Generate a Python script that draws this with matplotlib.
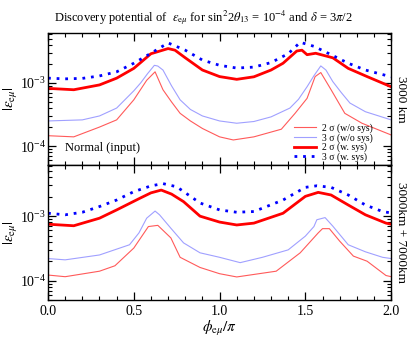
import matplotlib
matplotlib.use("Agg")
from matplotlib import pyplot as plt
from matplotlib.ticker import LogLocator, MultipleLocator, NullFormatter
import numpy as np

plt.rcParams['font.family'] = ['Liberation Serif', 'DejaVu Serif']
plt.rcParams['mathtext.fontset'] = 'stix'

##-----------------------------------------------------------------------------
## top panel: 3000 km

top_x_3w = [0.0, 0.1, 0.2, 0.3, 0.4, 0.5, 0.6, 0.7, 0.8, 0.9, 1.0, 1.1, 1.2, 1.3, 1.4, 1.47, 1.55, 1.65, 1.75, 1.85, 2.0]
top_y_3w = [1.19e-3, 1.16e-3, 1.18e-3, 1.29e-3, 1.5e-3, 2.05e-3, 2.95e-3, 4.3e-3, 3.3e-3, 2.3e-3, 1.9e-3,
            1.72e-3, 1.78e-3, 2.1e-3, 2.9e-3, 4.4e-3, 3.8e-3, 2.8e-3, 2.05e-3, 1.6e-3, 1.25e-3]

top_x_2w = [0.0, 0.15, 0.3, 0.4, 0.5, 0.6, 0.7, 0.74, 0.8, 0.9, 1.0, 1.1, 1.2, 1.3, 1.37, 1.45, 1.48, 1.51,
            1.56, 1.66, 1.75, 1.86, 2.0]
top_y_2w = [8.2e-4, 7.8e-4, 9.3e-4, 1.19e-3, 1.7e-3, 2.9e-3, 3.5e-3, 3.3e-3, 2.5e-3, 1.6e-3, 1.26e-3,
            1.14e-3, 1.25e-3, 1.6e-3, 2.05e-3, 3.2e-3, 3.3e-3, 2.8e-3, 2.95e-3, 2.5e-3, 1.7e-3, 1.26e-3, 8.7e-4]

top_x_3n = [0.0, 0.2, 0.3, 0.4, 0.5, 0.54, 0.58, 0.62, 0.64, 0.67, 0.72, 0.77, 0.83, 0.9, 1.0, 1.1, 1.2,
            1.3, 1.41, 1.46, 1.51, 1.55, 1.59, 1.62, 1.66, 1.71, 1.76, 1.85, 2.0]
top_y_3n = [2.5e-4, 2.6e-4, 3.0e-4, 4.0e-4, 7.5e-4, 1.0e-3, 1.4e-3, 1.9e-3, 1.85e-3, 1.6e-3, 9e-4, 5.4e-4,
            3.8e-4, 3.0e-4, 2.5e-4, 2.3e-4, 2.45e-4, 2.9e-4, 4.0e-4, 5.5e-4, 8.7e-4, 1.3e-3, 1.86e-3,
            1.6e-3, 1.05e-3, 7e-4, 4.8e-4, 3.5e-4, 2.6e-4]

top_x_2n = [0.0, 0.15, 0.3, 0.4, 0.5, 0.575, 0.624, 0.67, 0.72, 0.77, 0.83, 0.9, 1.0, 1.08, 1.2, 1.36,
            1.44, 1.51, 1.557, 1.59, 1.65, 1.73, 1.83, 2.0]
top_y_2n = [1.46e-4, 1.4e-4, 2.0e-4, 2.6e-4, 5.4e-4, 1.1e-3, 1.5e-3, 7.8e-4, 5e-4, 3.3e-4, 2.5e-4, 1.9e-4,
            1.4e-4, 1.25e-4, 1.4e-4, 1.85e-4, 3.3e-4, 5.7e-4, 1.26e-3, 1.46e-3, 7.8e-4, 3.3e-4, 2.3e-4, 1.5e-4]

##-----------------------------------------------------------------------------
## bottom panel: 3000km + 7000km

bot_x_3w = [0.0, 0.1, 0.2, 0.3, 0.4, 0.5, 0.6, 0.67, 0.75, 0.886, 1.0, 1.1, 1.2, 1.37, 1.5, 1.567, 1.65,
            1.75, 1.85, 1.95, 2.0]
bot_y_3w = [1.11e-3, 1.05e-3, 1.15e-3, 1.41e-3, 1.78e-3, 2.4e-3, 2.95e-3, 3.2e-3, 2.86e-3, 1.6e-3, 1.25e-3,
            1.15e-3, 1.18e-3, 1.78e-3, 2.8e-3, 2.96e-3, 2.8e-3, 2.13e-3, 1.49e-3, 1.18e-3, 1.12e-3]

bot_x_2w = [0.0, 0.15, 0.3, 0.4, 0.536, 0.6, 0.66, 0.72, 0.79, 0.886, 1.0, 1.1, 1.2, 1.37, 1.5, 1.575,
            1.65, 1.75, 1.85, 1.97, 2.0]
bot_y_2w = [7.5e-4, 7.1e-4, 9.3e-4, 1.25e-3, 1.9e-3, 2.3e-3, 2.54e-3, 2.2e-3, 1.68e-3, 1.0e-3, 8.1e-4,
            7.3e-4, 7.8e-4, 1.11e-3, 2.03e-3, 2.34e-3, 2.13e-3, 1.49e-3, 1.05e-3, 7.8e-4, 7.5e-4]

bot_x_3n = [0.0, 0.1, 0.3, 0.475, 0.53, 0.575, 0.624, 0.65, 0.716, 0.79, 0.886, 1.0, 1.12, 1.25, 1.4,
            1.5, 1.55, 1.567, 1.615, 1.66, 1.75, 1.85, 1.95, 2.0]
bot_y_3n = [2.2e-4, 2.1e-4, 2.5e-4, 3.6e-4, 5.5e-4, 9.3e-4, 1.2e-3, 1.05e-3, 6.5e-4, 3.85e-4, 2.7e-4,
            2.3e-4, 1.9e-4, 2.3e-4, 3.0e-4, 4.9e-4, 6.9e-4, 8.8e-4, 9.5e-4, 7e-4, 3.6e-4, 2.8e-4, 2.3e-4, 2.2e-4]

bot_x_2n = [0.0, 0.1, 0.3, 0.39, 0.5, 0.585, 0.64, 0.716, 0.77, 0.886, 1.0, 1.1, 1.33, 1.47, 1.575, 1.6,
            1.64, 1.7, 1.78, 1.86, 1.97, 2.0]
bot_y_2n = [1.22e-4, 1.15e-4, 1.4e-4, 1.7e-4, 3.2e-4, 6.9e-4, 7.2e-4, 4.6e-4, 2.3e-4, 1.6e-4, 1.28e-4,
            1.14e-4, 1.4e-4, 2.7e-4, 5.5e-4, 6.4e-4, 6.4e-4, 4.1e-4, 2.4e-4, 2.0e-4, 1.2e-4, 1.15e-4]

labels = ['2 σ (w/o sys)', '3 σ (w/o sys)', '2 σ (w. sys)', '3 σ (w. sys)']
side_text = ['3000 km', '3000km + 7000km']

##-----------------------------------------------------------------------------

fig = plt.figure(figsize=(4.07, 3.39), dpi=100)
ax1 = fig.add_axes([0.118, 0.513, 0.843, 0.390])
ax2 = fig.add_axes([0.118, 0.115, 0.843, 0.398])

panels = [
    (ax1, (top_x_2n, top_y_2n), (top_x_3n, top_y_3n), (top_x_2w, top_y_2w), (top_x_3w, top_y_3w)),
    (ax2, (bot_x_2n, bot_y_2n), (bot_x_3n, bot_y_3n), (bot_x_2w, bot_y_2w), (bot_x_3w, bot_y_3w)),
]

for i, (ax, c2n, c3n, c2w, c3w) in enumerate(panels):
    ax.plot(*c2n, color='#ff5a5a', lw=0.8, label=labels[0])
    ax.plot(*c3n, color='#a0a0ff', lw=0.8, label=labels[1])
    ax.plot(*c2w, color='#ff0000', lw=2.0, label=labels[2])
    ax.plot(*c3w, color='#0000ff', lw=2.0, ls=(0, (1, 2.1)), label=labels[3])

    ax.set_yscale('log')
    ax.set_ylim(5e-5, 6.2e-3)
    ax.set_xlim(0, 2.0)
    ax.xaxis.set_major_locator(MultipleLocator(0.5))
    ax.xaxis.set_minor_locator(MultipleLocator(0.1))
    ax.yaxis.set_major_locator(LogLocator(base=10, numticks=10))
    ax.yaxis.set_minor_locator(LogLocator(base=10, subs=np.arange(2, 10), numticks=10))
    ax.yaxis.set_minor_formatter(NullFormatter())
    ax.tick_params(which='both', direction='in', top=True, right=True, labelsize=10)
    ax.tick_params(which='major', length=6, width=0.9)
    ax.tick_params(which='minor', length=3, width=0.8)
    ax.tick_params(axis='y', which='major', pad=1.5)
    for s in ax.spines.values():
        s.set_linewidth(1.0)

    ax.set_ylabel(r'$|\varepsilon_{\mathrm{e}\mu}|$', fontsize=11, labelpad=0)
    ax.text(1.012, 0.5, side_text[i], transform=ax.transAxes, rotation=270,
            va='center', ha='left', fontsize=9.5)

ax1.tick_params(axis='x', labelbottom=False)
ax2.xaxis.set_major_formatter(plt.FuncFormatter(lambda v, p: '%.1f' % v))
ax2.set_xlabel(r'$\phi_{\mathrm{e}\mu}/\pi$', fontsize=11, labelpad=1)

ax1.text(0.05, 0.13, 'Normal (input)', transform=ax1.transAxes, fontsize=9, va='center')
ax1.legend(loc='lower right', bbox_to_anchor=(0.97, -0.035), frameon=False, fontsize=7,
           handlelength=2.3, labelspacing=0.0, handletextpad=0.6, borderpad=0.3)

fig.suptitle(r'Discovery potential of  $\varepsilon_{\mathrm{e}\mu}$ for sin$^2$2$\theta_{13}$ = 10$^{-4}$ and $\delta$ = 3$\pi$/2',
             fontsize=9, y=0.975)

fig.savefig('out.png', dpi=100)
